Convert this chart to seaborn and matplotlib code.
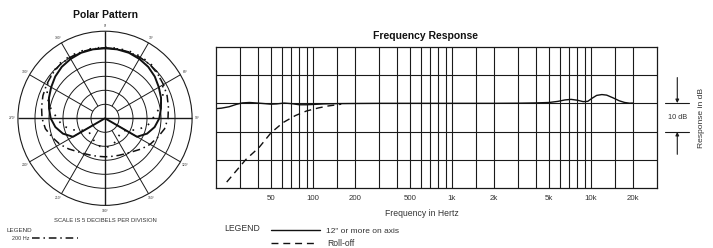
import numpy as np
import pandas as pd
import matplotlib
matplotlib.use("Agg")
import matplotlib.pyplot as plt
import matplotlib.transforms as mtransforms
from matplotlib.lines import Line2D
from matplotlib.patches import Circle
from matplotlib.ticker import NullFormatter
import seaborn as sns

# ---------------- data ----------------
# Frequency response (Hz, dB)
fr_freq = [20, 22, 25, 28, 31, 35, 40, 45, 50, 55, 62, 70, 80, 90, 100, 120, 150, 200,
           300, 500, 1000, 2000, 3000, 4000, 5000, 5800, 6500, 7200, 8000, 8800, 9500,
           10200, 11000, 12000, 13000, 14500, 16000, 17500, 19000, 20000]
fr_db = [-1.9, -1.7, -1.2, -0.4, 0.15, 0.3, 0.1, -0.1, -0.3, -0.2, 0.1, -0.1, -0.5, -0.5, -0.4,
         -0.2, -0.1, -0.05, 0.0, 0.0, 0.0, 0.0, 0.05, 0.15, 0.3, 0.7, 1.2, 1.4, 1.1, 0.6, 0.7,
         1.8, 2.8, 3.1, 2.9, 1.9, 0.9, 0.3, 0.05, 0.1]
roll_freq = [24, 33, 41, 50, 61, 75, 90, 110, 130, 150, 160]
roll_db = [-27.8, -19.8, -15.6, -10.4, -6.8, -4.3, -2.7, -1.6, -0.9, -0.5, -0.3]

tick_freqs = [50, 100, 200, 500, 1000, 2000, 5000, 10000, 20000]
tick_labels = ["50", "100", "200", "500", "1k", "2k", "5k", "10k", "20k"]
grid_freqs = [30, 40, 60, 70, 80, 90, 150, 300, 400, 600, 700, 800, 900, 1500,
              3000, 4000, 6000, 7000, 8000, 9000, 15000]
db_grid = [-20, -10, 0, 10]

# Polar pattern (degrees, dB relative to on-axis)
polar_angles = list(range(0, 361, 10))
polar_main_db = [0, 0, -0.1, -0.5, -1.0, -1.8, -2.8, -3.7, -4.7, -5.6, -7.0, -9.0, -11.8,
                 -25, -25, -25, -25, -25, -25, -25, -25, -25, -25, -25,
                 -11.8, -9.0, -7.0, -5.6, -4.7, -3.7, -2.8, -1.8, -1.0, -0.5, -0.1, 0, 0]
polar_200_db = [0.2, 0.2, 0.2, 0.1, 0.0, -0.4, -0.9, -1.4, -2.0, -2.5, -3.4, -5.0, -6.4,
                -8.0, -9.5, -10.4, -10.9, -11.2, -11.25, -11.2, -10.9, -10.4, -9.5, -8.0,
                -6.4, -5.0, -3.4, -2.5, -2.0, -1.4, -0.9, -0.4, 0.0, 0.1, 0.2, 0.2, 0.2]
polar_dot_db = [0.4, 0.4, 0.5, 0.5, 0.4, -0.2, -1.2, -3.0, -5.4, -7.9, -9.6, -12.9, -16.4,
                -17.5, -17.1, -16.4, -15.5, -14.8, -14.6, -14.8, -15.5, -16.4, -17.1, -17.5,
                -16.4, -12.9, -9.6, -7.9, -5.4, -3.0, -1.2, -0.2, 0.4, 0.5, 0.5, 0.4, 0.4]
ring_db = [-20, -15, -10, -5, 0]
outer_db = 6.1
spoke_angles = list(range(0, 360, 30))
angle_labels = ["0°", "30°", "60°", "90°", "120°", "150°", "180°", "210°", "240°", "270°", "300°", "330°"]

# ---------------- style ----------------
sns.set_theme(style="white")
plt.rcParams["font.family"] = ["Liberation Sans", "DejaVu Sans"]
INK = "#1a1a1a"
TXT = "#333333"

W, H = 713, 248
fig = plt.figure(figsize=(W / 100, H / 100), dpi=100)


def fx(px):
    return px / W


def fy(py):
    return 1 - py / H


# ---------------- frequency response ----------------
L, R, T, B = 215.7, 657.2, 46.7, 188.3
ax = fig.add_axes([fx(L), fy(B), (R - L) / W, (B - T) / H])
ax.set_xscale("log")
sns.lineplot(data=pd.DataFrame({"freq": fr_freq, "db": fr_db}), x="freq", y="db", ax=ax,
             estimator=None, sort=False, color="#111111", lw=1.0)
sns.lineplot(data=pd.DataFrame({"freq": roll_freq, "db": roll_db}), x="freq", y="db", ax=ax,
             estimator=None, sort=False, color="#111111", lw=1.0, linestyle=(0, (5, 3.5)))
ax.set_xlim(20, 30000)
ax.set_ylim(-30, 20)
ax.set_xlabel("")
ax.set_ylabel("")
ax.set_xticks(tick_freqs)
ax.set_xticklabels(tick_labels)
ax.set_xticks(grid_freqs, minor=True)
ax.xaxis.set_minor_formatter(NullFormatter())
ax.set_yticks(db_grid)
ax.set_yticklabels([])
ax.set_axisbelow(True)
ax.grid(True, which="major", axis="both", color=INK, lw=0.8)
ax.grid(True, which="minor", axis="x", color=INK, lw=0.8)
ax.tick_params(which="both", length=0, labelsize=5.7, pad=5, labelcolor=TXT)
for sp in ax.spines.values():
    sp.set_color(INK)
    sp.set_linewidth(0.9)

fig.text(fx(425.5), fy(36), "Frequency Response", ha="center", va="center",
         fontsize=7.5, fontweight="bold", color="#111111")
fig.text(fx(422), fy(214), "Frequency in Hertz", ha="center", va="center",
         fontsize=6.2, color=TXT)

# 10 dB scale marker at right
bt = mtransforms.blended_transform_factory(ax.transAxes, ax.transData)
for yv in (0, -10):
    ax.add_line(Line2D([1.0177, 1.0727], [yv, yv], transform=bt, color=INK, lw=0.8, clip_on=False))
ax.annotate("", xy=(1.0455, 0.1), xytext=(1.0455, 9.1), xycoords=bt, textcoords=bt,
            annotation_clip=False,
            arrowprops=dict(arrowstyle="-|>", color=INK, lw=0.8, mutation_scale=5,
                            shrinkA=0, shrinkB=0))
ax.annotate("", xy=(1.0455, -10.1), xytext=(1.0455, -18), xycoords=bt, textcoords=bt,
            annotation_clip=False,
            arrowprops=dict(arrowstyle="-|>", color=INK, lw=0.8, mutation_scale=5,
                            shrinkA=0, shrinkB=0))
ax.text(1.0455, -5, "10 dB", transform=bt, ha="center", va="center", fontsize=5.3, color=TXT)
ax.text(1.1008, -5, "Response in dB", transform=bt, ha="center", va="center",
        rotation=90, fontsize=6.1, color=TXT)

# legend (frequency response)
fig.text(fx(224.2), fy(228.3), "LEGEND", ha="left", va="center", fontsize=6.2, color=TXT)
fig.add_artist(Line2D([fx(271.2), fx(319.5)], [fy(229.7)] * 2, transform=fig.transFigure,
                      color="#111111", lw=1.0))
fig.text(fx(326.3), fy(231.4), "12\" or more on axis", ha="left", va="center", fontsize=6,
         color=TXT)
fig.add_artist(Line2D([fx(271.2), fx(316)], [fy(243.3)] * 2, transform=fig.transFigure,
                      color="#111111", lw=1.0, linestyle=(0, (5, 3.5))))
fig.text(fx(327), fy(244), "Roll-off", ha="left", va="center", fontsize=6.2, color=TXT)

# ---------------- polar pattern ----------------
CX, CY = 105, 118.3
R0, PX_PER_DB = 70.0, 14.0 / 5.0
pax = fig.add_axes([fx(CX - 100), fy(CY + 100), 200 / W, 200 / H])


def to_r(db):
    return np.clip(R0 + np.asarray(db, dtype=float) * PX_PER_DB, 0, None)


r_out = float(to_r(outer_db))
for db in ring_db:
    pax.add_patch(Circle((0, 0), float(to_r(db)), fill=False, ec=INK, lw=0.7))
pax.add_patch(Circle((0, 0), r_out, fill=False, ec=INK, lw=0.8))
r_in = float(to_r(ring_db[0]))
for a in spoke_angles:
    th = np.deg2rad(a)
    if a % 90 == 0:
        r1, lw = 0, 1.0
    else:
        r1, lw = r_in, 0.7
    pax.plot([r1 * np.sin(th), r_out * np.sin(th)], [r1 * np.cos(th), r_out * np.cos(th)],
             color=INK, lw=lw, solid_capstyle="butt")

th = np.deg2rad(polar_angles)
curves = [
    (polar_200_db, dict(lw=1.1, linestyle=(0, (5, 2.5, 1, 2.5)))),
    (polar_dot_db, dict(lw=1.2, linestyle=(0, (1, 4)))),
    (polar_main_db, dict(lw=1.4, linestyle="-")),
]
for dbs, kw in curves:
    r = to_r(dbs)
    sns.lineplot(x=r * np.sin(th), y=r * np.cos(th), ax=pax, estimator=None, sort=False,
                 color="#111111", **kw)

for a, lab in zip(spoke_angles, angle_labels):
    t = np.deg2rad(a)
    pax.text(92.5 * np.sin(t), 92.5 * np.cos(t), lab, ha="center", va="center",
             fontsize=2.4, color=TXT)

pax.set_xlim(-100, 100)
pax.set_ylim(-100, 100)
pax.axis("off")

fig.text(fx(105.5), fy(15), "Polar Pattern", ha="center", va="center",
         fontsize=7.5, fontweight="bold", color="#111111")
fig.text(fx(105), fy(220), "SCALE IS 5 DECIBELS PER DIVISION", ha="center", va="center",
         fontsize=4.2, color=TXT)
fig.text(fx(6.7), fy(230), "LEGEND", ha="left", va="center", fontsize=4.5, color=TXT)
fig.text(fx(11.7), fy(238.3), "200 Hz", ha="left", va="center", fontsize=3.9, color=TXT)
fig.add_artist(Line2D([fx(31.7), fx(78.3)], [fy(238)] * 2, transform=fig.transFigure,
                      color="#111111", lw=1.1, linestyle=(0, (5, 2.5, 1, 2.5))))

fig.savefig("out.png", dpi=100)
